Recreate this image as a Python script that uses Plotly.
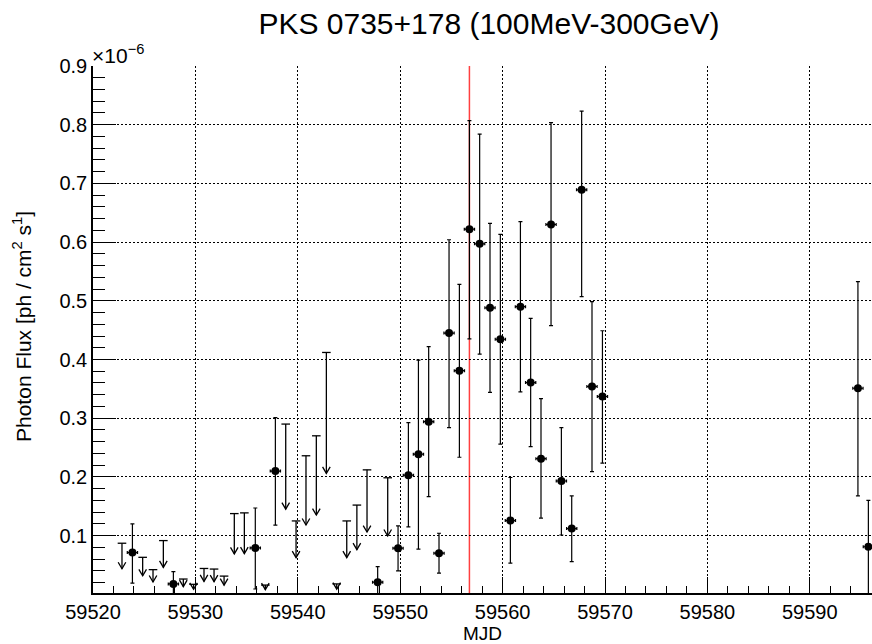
import plotly.graph_objects as go

# ---------------- data (flux in units of 1e-6 ph / cm^2 / s) ----------------
det_mjd = [59523.85, 59527.85, 59535.85, 59537.81, 59547.80, 59549.79, 59550.80,
           59551.78, 59552.78, 59553.79, 59554.77, 59555.78, 59556.76, 59557.76,
           59558.77, 59559.78, 59560.76, 59561.74, 59562.74, 59563.75, 59564.73,
           59565.74, 59566.75, 59567.72, 59568.73, 59569.75, 59594.70, 59595.72]
det_flux = [0.071, 0.0177, 0.079, 0.210, 0.0206, 0.0785, 0.203,
            0.2387, 0.294, 0.070, 0.445, 0.381, 0.622, 0.597,
            0.488, 0.4345, 0.1256, 0.490, 0.3607, 0.231, 0.630,
            0.193, 0.112, 0.689, 0.354, 0.337, 0.351, 0.081]
det_hi = [0.120, 0.0385, 0.147, 0.301, 0.047, 0.1165, 0.2925,
          0.399, 0.422, 0.104, 0.604, 0.528, 0.807, 0.784,
          0.632, 0.613, 0.199, 0.635, 0.470, 0.3334, 0.8036,
          0.284, 0.1676, 0.823, 0.4987, 0.449, 0.5327, 0.160]
det_lo = [0.019, 0.0, 0.009, 0.118, 0.0, 0.040, 0.115,
          0.077, 0.1665, 0.036, 0.284, 0.2335, 0.435, 0.409,
          0.344, 0.256, 0.053, 0.345, 0.2516, 0.1296, 0.4578,
          0.101, 0.0557, 0.507, 0.209, 0.2233, 0.1676, 0.0]
bin_half_width = 0.5

ul_mjd = [59522.83, 59524.85, 59525.86, 59526.87, 59528.82, 59529.82, 59530.84,
          59531.82, 59532.80, 59533.80, 59534.78, 59536.83, 59538.82, 59539.83,
          59540.80, 59541.81, 59542.79, 59543.80, 59544.78, 59545.77, 59546.76,
          59548.78]
ul_flux = [0.087, 0.063, 0.042, 0.0915, 0.026, 0.017, 0.044,
           0.043, 0.031, 0.1375, 0.1387, 0.0157, 0.290, 0.125,
           0.236, 0.270, 0.412, 0.0177, 0.125, 0.152, 0.212,
           0.1985]

flare_mjd = [59556.76]

y_ticks = [0.1, 0.2, 0.3, 0.4, 0.5, 0.6, 0.7, 0.8, 0.9]
x_ticks = [59520, 59530, 59540, 59550, 59560, 59570, 59580, 59590]

# ---------------- layout geometry ----------------
W, H = 872, 644
ML, MR, MT, MB = 93, 0, 66, 51
PW, PH = W - ML - MR, H - MT - MB
x_range = [59520, 59520 + PW / 10.24]
y_range = [0.9 - PH / 587.0, 0.9]

# arrow geometry in data units (derived from pixel scale)
px_x = (x_range[1] - x_range[0]) / PW
px_y = (y_range[1] - y_range[0]) / PH
cap_dx = 4.3 * px_x
head_dx = 3.8 * px_x
head_dy = 6.5 * px_y

ax_x, ax_y = [], []
for x, u in zip(ul_mjd, ul_flux):
    tip = 0.5 * u
    ax_x += [x - cap_dx, x + cap_dx, None, x, x, None, x - head_dx, x, x + head_dx, None]
    ax_y += [u, u, None, u, tip, None, tip + head_dy, tip, tip + head_dy, None]

FONT = "Liberation Sans, Arial, Helvetica, sans-serif"

fig = go.Figure()

# red vertical marker line
for fm in flare_mjd:
    fig.add_shape(type="line", x0=fm, x1=fm, y0=0, y1=1, xref="x", yref="paper",
                  line=dict(color="#ff4040", width=1.5), layer="below")

# upper limits
fig.add_trace(go.Scatter(x=ax_x, y=ax_y, mode="lines",
                         line=dict(color="black", width=1.3),
                         hoverinfo="skip", showlegend=False))

# detections
fig.add_trace(go.Scatter(
    x=det_mjd, y=det_flux, mode="markers",
    marker=dict(color="black", size=8, symbol="circle"),
    error_y=dict(type="data", symmetric=False,
                 array=[h - f for h, f in zip(det_hi, det_flux)],
                 arrayminus=[f - l for f, l in zip(det_flux, det_lo)],
                 color="black", thickness=1.2, width=2),
    error_x=dict(type="constant", value=bin_half_width,
                 color="black", thickness=1.2, width=1.5),
    showlegend=False))

grid_dash = "1.5px,2.5px"
fig.update_layout(
    width=W, height=H,
    margin=dict(l=ML, r=MR, t=MT, b=MB, pad=0),
    paper_bgcolor="white", plot_bgcolor="white",
    font=dict(family=FONT, color="black"),
    title=dict(text="PKS 0735+178 (100MeV-300GeV)",
               x=489 / W, xanchor="center", xref="container",
               y=1 - 23 / H, yanchor="middle", yref="container",
               font=dict(size=30, family=FONT, color="black")),
    xaxis=dict(range=x_range, tickmode="array", tickvals=x_ticks,
               ticktext=[str(t) for t in x_ticks],
               ticks="inside", ticklen=16, tickwidth=1, tickcolor="black",
               minor=dict(dtick=2, tick0=59520, ticks="inside", ticklen=7,
                          tickwidth=1, tickcolor="black", showgrid=False),
               showline=True, linecolor="black", linewidth=1.5, mirror=False,
               showgrid=True, gridcolor="black", gridwidth=1, griddash=grid_dash,
               zeroline=False, tickfont=dict(size=20, family=FONT, color="black")),
    yaxis=dict(range=y_range, tickmode="array", tickvals=y_ticks,
               ticktext=[f"{t:.1f}" for t in y_ticks],
               ticks="inside", ticklen=23, tickwidth=1, tickcolor="black",
               minor=dict(dtick=0.02, tick0=0, ticks="inside", ticklen=12,
                          tickwidth=1, tickcolor="black", showgrid=False),
               showline=True, linecolor="black", linewidth=1.5, mirror=False,
               showgrid=True, gridcolor="black", gridwidth=1, griddash=grid_dash,
               zeroline=False, tickfont=dict(size=20, family=FONT, color="black")),
    annotations=[
        dict(text="×10<sup>−6</sup>", xref="paper", yref="paper", x=0, y=1,
             xanchor="left", yanchor="bottom", showarrow=False, xshift=-3, yshift=-3,
             font=dict(size=21, family=FONT, color="black")),
        dict(text="Photon Flux [ph / cm<sup>2</sup> s<sup>1</sup>]", textangle=-90,
             xref="paper", yref="paper", x=(22 - ML) / PW, y=(H - MB - 327) / PH,
             xanchor="center", yanchor="middle", showarrow=False,
             font=dict(size=21, family=FONT, color="black")),
        dict(text="MJD", xref="paper", yref="paper", x=(482 - ML) / PW,
             y=(H - MB - 633) / PH, xanchor="center", yanchor="middle", showarrow=False,
             font=dict(size=19, family=FONT, color="black")),
    ],
)

fig.write_html("out.html")
